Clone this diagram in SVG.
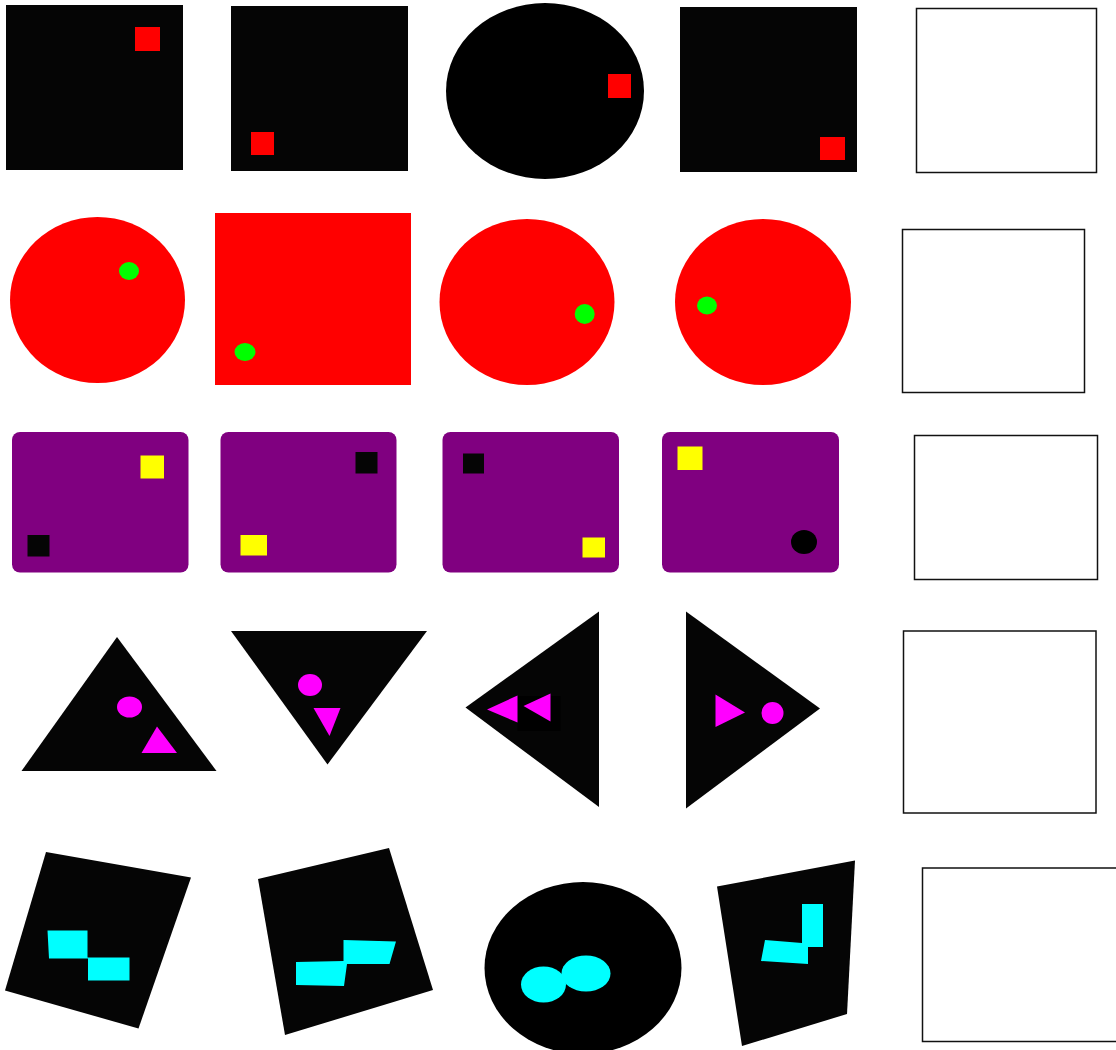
<svg xmlns="http://www.w3.org/2000/svg" width="1116" height="1050" viewBox="0 0 1116 1050">
<style>
.k{fill:#050505}
.k0{fill:#000}
.r{fill:#ff0000}
.g{fill:#00ff00}
.p{fill:#800080}
.y{fill:#ffff00}
.m{fill:#ff00ff}
.c{fill:#00ffff}
.w{fill:#fff;stroke:#111;stroke-width:1.5}
</style>
<rect width="1116" height="1050" fill="#fff"/>
<!-- Row 1 -->
<g id="r1c1"><rect class="k" x="6" y="5" width="177" height="165"/><rect class="r" x="135" y="27" width="25" height="24"/></g>
<g id="r1c2"><rect class="k" x="231" y="6" width="177" height="165"/><rect class="r" x="251" y="132" width="23" height="23"/></g>
<g id="r1c3"><ellipse class="k0" cx="545" cy="91" rx="99" ry="88"/><rect class="r" x="608" y="74" width="23" height="24"/></g>
<g id="r1c4"><rect class="k" x="680" y="7" width="177" height="165"/><rect class="r" x="820" y="137" width="25" height="23"/></g>
<g id="r1c5"><rect class="w" x="916.5" y="8.5" width="180" height="164"/></g>
<!-- Row 2 -->
<g id="r2c1"><ellipse class="r" cx="97.5" cy="300" rx="87.5" ry="83"/><ellipse class="g" cx="129" cy="271" rx="10" ry="9"/></g>
<g id="r2c2"><rect class="r" x="215" y="213" width="196" height="172"/><ellipse class="g" cx="245" cy="352" rx="10.5" ry="9"/></g>
<g id="r2c3"><ellipse class="r" cx="527" cy="302" rx="87.5" ry="83"/><ellipse class="g" cx="584.7" cy="314" rx="10" ry="10"/></g>
<g id="r2c4"><ellipse class="r" cx="763" cy="302" rx="88" ry="83"/><ellipse class="g" cx="707" cy="305.5" rx="10" ry="9"/></g>
<g id="r2c5"><rect class="w" x="902.5" y="229.5" width="182" height="163"/></g>
<!-- Row 3 -->
<g id="r3c1"><rect class="p" x="12" y="432" width="176.5" height="140.5" rx="8"/><rect class="y" x="140.5" y="455.5" width="23.5" height="23"/><rect class="k" x="27.5" y="535" width="22" height="21.5"/></g>
<g id="r3c2"><rect class="p" x="220.5" y="432" width="176" height="140.5" rx="8"/><rect class="k" x="355.5" y="452" width="22" height="21.5"/><rect class="y" x="240.5" y="535" width="26.5" height="20.5"/></g>
<g id="r3c3"><rect class="p" x="442.5" y="432" width="176.5" height="140.5" rx="8"/><rect class="k" x="463" y="453.5" width="21" height="20"/><rect class="y" x="582.5" y="537.5" width="22.5" height="20"/></g>
<g id="r3c4"><rect class="p" x="662" y="432" width="177" height="140.5" rx="8"/><rect class="y" x="677.5" y="446.5" width="25" height="23.5"/><ellipse class="k0" cx="804" cy="542" rx="13" ry="12"/></g>
<g id="r3c5"><rect class="w" x="914.5" y="435.5" width="183" height="144"/></g>
<!-- Row 4 -->
<g id="r4c1"><polygon class="k" points="117,637 216.5,771 21.5,771"/><ellipse class="m" cx="129.5" cy="707" rx="12.5" ry="10.5"/><polygon class="m" points="157,726.5 177,753 141.5,753"/></g>
<g id="r4c2"><polygon class="k" points="231,631 427,631 327.5,764.5"/><ellipse class="m" cx="310" cy="685" rx="12" ry="11"/><polygon class="m" points="313.5,708 340.5,708 329.5,736"/></g>
<g id="r4c3"><polygon class="k" points="465.5,707.5 599,611.5 599,807"/><rect class="k0" x="517.5" y="696" width="43" height="35"/><polygon class="m" points="487,709.5 517.5,695.5 517.5,722.5"/><polygon class="m" points="523.5,706 550.5,693.5 550.5,721.5"/></g>
<g id="r4c4"><polygon class="k" points="686,611.5 820,708.5 686,808.5"/><polygon class="m" points="715.5,694.5 745,712.5 715.5,727"/><ellipse class="m" cx="772.5" cy="713" rx="11" ry="11"/></g>
<g id="r4c5"><rect class="w" x="903.5" y="631" width="192.5" height="182"/></g>
<!-- Row 5 -->
<g id="r5c1"><polygon class="k" points="46,852 191,877.5 138.5,1028.5 5,990.5"/><polygon class="c" points="47.5,930.5 87.5,930.5 87.5,957.5 129.5,957.5 129.5,980.5 88,980.5 88,958.5 49,958.5"/></g>
<g id="r5c2"><polygon class="k" points="258,879 389,848 433,990 285,1035"/><polygon class="c" points="296,962 343.5,961 343.5,940 396,941.5 389.5,964 347,964 344,986 296,985"/></g>
<g id="r5c3"><ellipse class="k0" cx="583" cy="968" rx="98.5" ry="86"/><ellipse class="c" cx="543.5" cy="984.5" rx="22.5" ry="18"/><ellipse class="c" cx="586" cy="973.5" rx="24.5" ry="18"/></g>
<g id="r5c4"><polygon class="k" points="717,886.5 855,860.5 847,1014 742,1046"/><polygon class="c" points="765,940 802,943 802,904 823,904 823,947 808,947 808,964 761,961"/></g>
<g id="r5c5"><rect class="w" x="922.5" y="868" width="200" height="173.5"/></g>
</svg>
